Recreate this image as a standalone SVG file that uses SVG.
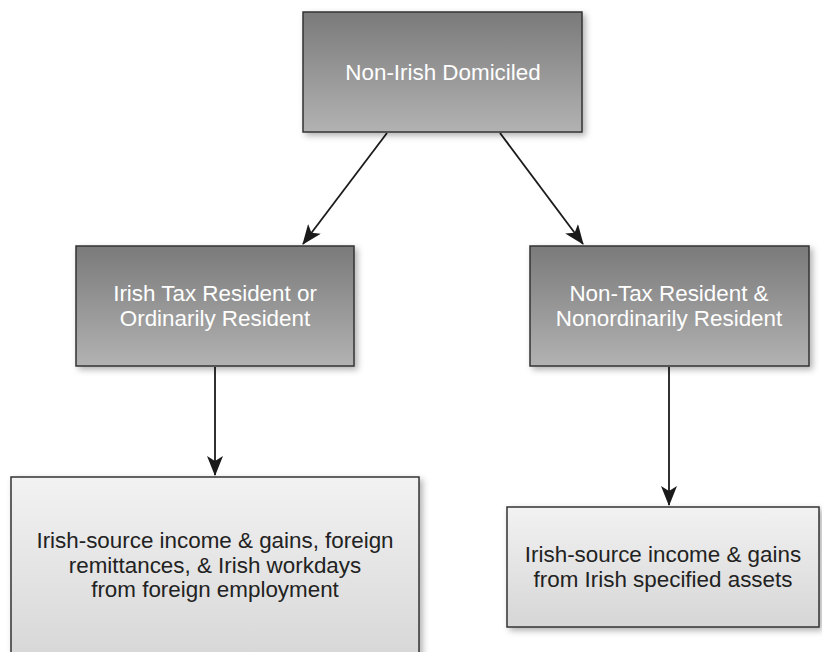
<svg xmlns="http://www.w3.org/2000/svg" width="822" height="652" viewBox="0 0 822 652">
<defs>
<linearGradient id="dark" x1="0" y1="0" x2="0" y2="1">
<stop offset="0" stop-color="#7a7a7a"/>
<stop offset="1" stop-color="#b2b2b2"/>
</linearGradient>
<linearGradient id="light" x1="0" y1="0" x2="0" y2="1">
<stop offset="0" stop-color="#f2f2f2"/>
<stop offset="1" stop-color="#d6d6d6"/>
</linearGradient>
<filter id="sh" x="-10%" y="-10%" width="125%" height="130%">
<feDropShadow dx="3" dy="3" stdDeviation="3" flood-color="#000" flood-opacity="0.3"/>
</filter>
<marker id="ah" viewBox="0 0 20 16" refX="19" refY="8" markerWidth="20" markerHeight="16" markerUnits="userSpaceOnUse" orient="auto">
<path d="M0,0 L20,8 L0,16 L5,8 Z" fill="#1a1a1a"/>
</marker>
</defs>
<style>
.box{stroke:#333;stroke-width:1.5;filter:url(#sh)}
.dk{fill:url(#dark)}
.lt{fill:url(#light)}
text{font-family:"Liberation Sans",Arial,sans-serif;font-size:22.4px;text-anchor:middle}
.w{fill:#fff}
.b{fill:#222}
.c{stroke:#1a1a1a;stroke-width:1.8;fill:none;marker-end:url(#ah)}
</style>
<g id="connectors">
<line class="c" x1="387" y1="133" x2="303" y2="244"/>
<line class="c" x1="500" y1="133" x2="583" y2="244"/>
<line class="c" x1="215" y1="367" x2="215" y2="475"/>
<line class="c" x1="669" y1="367" x2="669" y2="505"/>
</g>
<g id="n1">
<rect class="box dk" x="303" y="12" width="279" height="120"/>
<text class="w" x="443" y="80">Non-Irish Domiciled</text>
</g>
<g id="n2">
<rect class="box dk" x="76" y="246" width="278" height="120"/>
<text class="w" x="215" y="301">Irish Tax Resident or</text>
<text class="w" x="215" y="326">Ordinarily Resident</text>
</g>
<g id="n3">
<rect class="box dk" x="530" y="246" width="279" height="120"/>
<text class="w" x="669" y="301">Non-Tax Resident &amp;</text>
<text class="w" x="669" y="326">Nonordinarily Resident</text>
</g>
<g id="n4">
<rect class="box lt" x="11" y="477" width="408" height="190"/>
<text class="b" x="215" y="548">Irish-source income &amp; gains, foreign</text>
<text class="b" x="215" y="573">remittances, &amp; Irish workdays</text>
<text class="b" x="215" y="597">from foreign employment</text>
</g>
<g id="n5">
<rect class="box lt" x="507" y="507" width="312" height="120"/>
<text class="b" x="663" y="562">Irish-source income &amp; gains</text>
<text class="b" x="663" y="587">from Irish specified assets</text>
</g>
</svg>
